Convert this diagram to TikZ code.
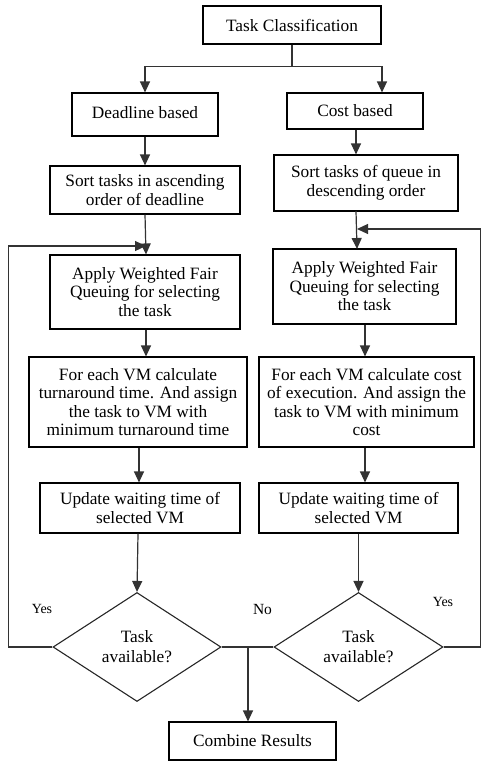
\documentclass[tikz,border=0pt]{standalone}
\usepackage{fontspec}
\setmainfont{Liberation Serif}
\usetikzlibrary{shapes.geometric,arrows.meta,calc}
\begin{document}
\begin{tikzpicture}[x=1pt,y=-1pt,
  box/.style={draw=black, line width=1.1pt, rectangle, align=center, inner sep=0pt,
    font=\fontsize{17.3}{18.5}\selectfont},
  dia/.style={draw=black!85, line width=1.1pt, diamond, aspect=1.55, inner sep=0pt, align=center,
    font=\fontsize{17.3}{20}\selectfont},
  ln/.style={draw=black!80, line width=1.2pt},
  arr/.style={ln, -{Triangle[width=10pt,length=11pt]}},
  lab/.style={font=\fontsize{14}{15}\selectfont, inner sep=0pt}
]
\useasboundingbox (0,0) rectangle (485,767);

\node[box, minimum width=178pt, minimum height=38pt] (tc) at (292,25) {Task Classification};
\node[box, minimum width=146pt, minimum height=43pt] (db) at (145,114.5) {\raisebox{4pt}{Deadline based}};
\node[box, minimum width=136pt, minimum height=36pt] (cb) at (355,111) {Cost based};
\node[box, minimum width=190pt, minimum height=48pt] (sl) at (145,190) {Sort tasks in ascending\\order of deadline};
\node[box, minimum width=184pt, minimum height=56pt] (sr) at (366,183) {Sort tasks of queue in\\descending order};
\node[box, minimum width=190pt, minimum height=74pt] (al) at (145,292) {Apply Weighted Fair\\Queuing for selecting\\the task};
\node[box, minimum width=183pt, minimum height=75pt] (ar) at (364.5,286.5) {Apply Weighted Fair\\Queuing for selecting\\the task};
\node[box, minimum width=218pt, minimum height=90pt] (fl) at (138,402) {For each VM calculate\\turnaround time. And assign\\the task to VM with\\minimum turnaround time};
\node[box, minimum width=215pt, minimum height=90pt] (fr) at (366.5,402) {For each VM calculate cost\\of execution. And assign the\\task to VM with minimum\\cost};
\node[box, minimum width=200pt, minimum height=50pt] (ul) at (140,508) {Update waiting time of\\selected VM};
\node[box, minimum width=199pt, minimum height=50pt] (ur) at (358.5,508) {Update waiting time of\\selected VM};
\node[dia, minimum width=168pt, minimum height=109pt] (dL) at (137,647) {Task\\available?};
\node[dia, minimum width=169pt, minimum height=109pt] (dR) at (358.5,647) {Task\\available?};
\node[box, minimum width=167pt, minimum height=38pt] (cr) at (252.5,741) {Combine Results};

% top split
\coordinate (sp) at ($(tc.south)+(0,22)$);
\draw[ln] (tc.south) -- (sp);
\draw[arr] (sp) -| (db.north);
\draw[arr] (sp) -| ([xshift=27pt]cb.north);

% left column
\draw[arr] (db.south) -- (sl.north);
\draw[arr] (sl.south) -- ([xshift=1pt]al.north);
\draw[arr] ([xshift=1pt]al.south) -- ([xshift=1pt]al.south |- fl.north);
\draw[arr] ([xshift=1pt]fl.south) -- ([xshift=1pt]fl.south |- ul.north);
\draw[arr] ([xshift=-2pt]ul.south) -- (dL.north);

% right column
\draw[arr] ([xshift=1pt]cb.south) -- ([xshift=1pt]cb.south |- sr.north);
\coordinate (rt) at (356,211);
\coordinate (rb) at (357,249);
\draw[arr] (rt) -- (rb);
\draw[arr] ([xshift=0.5pt]ar.south) -- ([xshift=0.5pt]ar.south |- fr.north);
\draw[arr] ([xshift=-1.5pt]fr.south) -- ([xshift=-1.5pt]fr.south |- ur.north);
\draw[arr] (ur.south) -- (dR.north);

% feedback loops
\coordinate (ml) at (146,246);
\coordinate (mr) at (357,229);
\draw[arr] (dL.west) -- ++(-44,0) |- (ml);
\draw[arr] (dR.east) -- ++(37,0) |- (mr);

% No branch
\coordinate (jn) at (248,647);
\draw[ln] (dL.east) -- (dR.west);
\draw[arr] (jn) -- (jn |- cr.north);

% labels
\node[lab] (y1) at (42,609) {Yes};
\node[lab, font=\fontsize{15.5}{16}\selectfont] (no) at (262.5,609) {No};
\node[lab] (y2) at (443,602) {Yes};
\end{tikzpicture}
\end{document}
